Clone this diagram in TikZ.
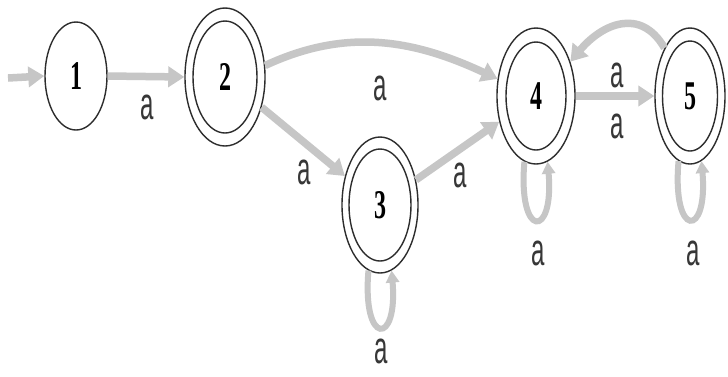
\documentclass[tikz,border=0pt]{standalone}
\usepackage{fontspec}
\setmainfont{Liberation Serif}
\newfontfamily\labfont{Liberation Sans}
\usetikzlibrary{arrows.meta,shapes.geometric}
\definecolor{edgegray}{RGB}{198,198,198}
\definecolor{rimdark}{RGB}{45,45,45}
\definecolor{labcol}{RGB}{55,55,55}
\begin{document}
\begin{tikzpicture}[x=1pt,y=1pt,
  state/.style={ellipse, draw=rimdark, line width=1.4pt, inner sep=0pt,
    font=\fontsize{24}{24}\selectfont\bfseries},
  inner/.style={draw=rimdark, line width=1.4pt},
  edge/.style={draw=edgegray, line width=7.5pt, -{Triangle[width=20pt,length=16pt]}},
  loopedge/.style={draw=edgegray, line width=6pt, -{Triangle[width=13pt,length=12pt]}},
  lab/.style={text=labcol, inner sep=0pt, font=\labfont\fontsize{24}{24}\selectfont}]
\useasboundingbox[fill=white] (0,0) rectangle (728,-376);

% states
\node[state, minimum width=62pt, minimum height=108pt] (n1) at (76,-76) {\scalebox{1}[1.7]{1}};
\node[state, minimum width=80pt, minimum height=138pt] (n2) at (225,-77) {\scalebox{1}[1.7]{2}};
\draw[inner] (n2.center) ellipse [x radius=32pt, y radius=56pt];
\node[state, minimum width=76pt, minimum height=136pt] (n3) at (380,-205) {\scalebox{1}[1.7]{3}};
\draw[inner] (n3.center) ellipse [x radius=31pt, y radius=56pt];
\node[state, minimum width=78pt, minimum height=136pt] (n4) at (536,-96) {\scalebox{1}[1.7]{4}};
\draw[inner] (n4.center) ellipse [x radius=30pt, y radius=54pt];
\node[state, minimum width=70pt, minimum height=136pt] (n5) at (690,-96) {\scalebox{1}[1.7]{5}};
\draw[inner] (n5.center) ellipse [x radius=27.5pt, y radius=55pt];

% transitions
\coordinate (start) at (8,-78);
\draw[edge] (start) -- (n1.west);
\draw[edge] (n1.east) -- (n2.west);
\draw[edge] (n2.16) to[out=25,in=155] (n4.156);
\draw[edge] (n2) -- (n3);
\draw[edge] (n3) -- (n4);
\draw[edge] (n4) -- (n5);
\draw[edge] (n5.118) to[out=120,in=50,looseness=1.3] (n4.45);
\draw[loopedge] (n3.-100) .. controls +(-95:76) and +(-85:76) .. (n3.-80);
\draw[loopedge] (n4.-100) .. controls +(-95:78) and +(-85:78) .. (n4.-80);
\draw[loopedge] (n5.-100) .. controls +(-95:78) and +(-85:78) .. (n5.-80);

% labels
\node[lab] (l12) at (147,-107) {\scalebox{1}[1.9]{a}};
\node[lab] (l24) at (380,-88) {\scalebox{1}[1.9]{a}};
\node[lab] (l23) at (304,-172) {\scalebox{1}[1.9]{a}};
\node[lab] (l34) at (460,-175) {\scalebox{1}[1.9]{a}};
\node[lab] (l45a) at (617,-75) {\scalebox{1}[1.9]{a}};
\node[lab] (l45b) at (617,-126) {\scalebox{1}[1.9]{a}};
\node[lab] (l33) at (381,-351) {\scalebox{1}[1.9]{a}};
\node[lab] (l44) at (538,-253) {\scalebox{1}[1.9]{a}};
\node[lab] (l55) at (693,-253) {\scalebox{1}[1.9]{a}};
\end{tikzpicture}
\end{document}
